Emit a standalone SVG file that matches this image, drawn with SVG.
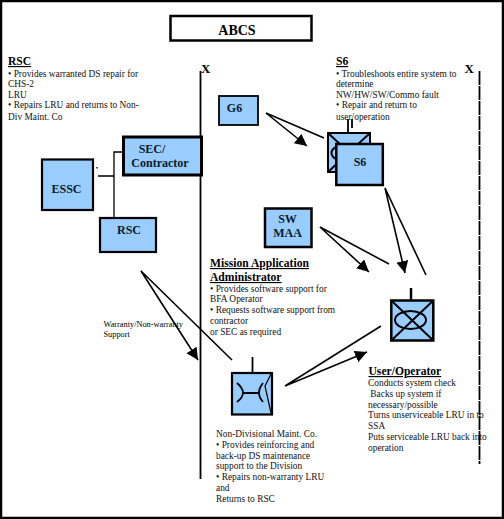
<svg xmlns="http://www.w3.org/2000/svg" width="504" height="519" viewBox="0 0 504 519">
<style>
text{font-family:"Liberation Serif","Times New Roman",serif;fill:#000}
.b{font-size:9.4px;fill:#111}
.h{font-size:11.6px;font-weight:bold;text-decoration:underline}
.n{font-size:12px;font-weight:bold;text-anchor:middle;fill:#0c1a2a}
.box{fill:#99ccff;stroke:#000}
.l{fill:none;stroke:#000}
.c{fill:none;stroke:#000;stroke-width:1.6}
</style>
<defs>
<marker id="a" markerUnits="userSpaceOnUse" markerWidth="14" markerHeight="14" refX="12" refY="6" orient="auto"><path d="M0 0L12 6L0 12z" fill="#000"/></marker>
</defs>
<rect x="1" y="1" width="502" height="517" fill="#fff" stroke="#000" stroke-width="2.500"/>
<g id="title"><rect x="170.500" y="16" width="141" height="24.500" fill="#fff" stroke="#000" stroke-width="2.500"/><text x="237" y="35" text-anchor="middle" font-size="14" font-weight="bold" fill="#0c1a2a">ABCS</text></g>
<g id="dividers">
<path class="l" stroke-width="1.800" d="M200.500 71V479"/>
<path class="l" stroke-width="1.800" stroke-dasharray="14 1" d="M479.500 71V464"/>
<text x="201" y="73" font-size="13" font-weight="bold">X</text>
<text x="464.500" y="73" font-size="13" font-weight="bold">X</text>
</g>
<g id="connectors">
<path class="l" stroke-width="1.300" d="M98 176H114M114 218V152H123"/>
<path class="l" stroke-width="1.300" d="M97 167v1.500"/>
<path class="c" d="M324 138L266 113L307 146" marker-end="url(#a)"/>
<path class="c" d="M426 275L385 188L405 273" marker-end="url(#a)"/>
<path class="c" d="M389 264L320 227L369 272" marker-end="url(#a)"/>
<path class="c" d="M232 360L141 271L198 360" marker-end="url(#a)"/>
<path class="c" d="M381 326L285 386L367 352" marker-end="url(#a)"/>
</g>
<g id="essc"><rect class="box" x="42" y="159.500" width="51" height="50.500" stroke-width="2.200"/><text class="n" x="66.500" y="192.500">ESSC</text></g>
<g id="sec"><rect class="box" x="123.500" y="137" width="78" height="38" stroke-width="3"/><text class="n" x="152" y="152.500">SEC/</text><text class="n" x="160" y="166.500">Contractor</text></g>
<g id="rsc"><rect class="box" x="100" y="218" width="56" height="34" stroke-width="2.200"/><text class="n" x="129" y="234">RSC</text></g>
<g id="g6"><rect class="box" x="219" y="96" width="39" height="29" stroke-width="1.800"/><text class="n" x="234.500" y="112">G6</text></g>
<g id="operator-s6">
<path class="l" stroke-width="1.800" d="M348 132V119M352 128V119"/>
<rect class="box" x="328" y="133" width="42" height="39" stroke-width="2"/>
<path class="l" stroke-width="2" d="M328 133L370 172M370 133L328 172"/>
<ellipse class="l" cx="347" cy="153" rx="15.500" ry="8.500" stroke-width="2"/>
</g>
<g id="s6"><rect class="box" x="336.300" y="144" width="46.500" height="41" stroke-width="2.500"/><text class="n" x="360" y="166">S6</text></g>
<g id="sw-maa"><rect class="box" x="265" y="208.500" width="46.500" height="38.500" stroke-width="2.500"/><text class="n" x="287.500" y="223">SW</text><text class="n" x="287.500" y="237">MAA</text></g>
<g id="user-operator">
<path class="l" stroke-width="2.500" d="M411 288V300"/>
<rect class="box" x="391.300" y="300.500" width="42" height="40" stroke-width="2.500"/>
<path class="l" stroke-width="2" d="M391.300 300.500L433.300 340.500M433.300 300.500L391.300 340.500"/>
<ellipse class="l" cx="410.500" cy="320" rx="15.500" ry="9" stroke-width="2"/>
</g>
<g id="maint">
<path class="l" stroke-width="1.800" d="M252.500 357V373"/>
<rect class="box" x="232" y="373" width="40" height="41.500" stroke-width="2.200"/>
<path class="l" stroke-width="1.800" d="M237 383Q249 393 237 402M243 393H259M263 383Q255 393 263 402"/>
<path class="l" stroke-width="1.200" d="M271 374L265 386L271 413"/>
</g>
<g id="texts">
<text class="h" x="8" y="65">RSC</text>
<text class="b"><tspan x="8" y="77">• Provides warranted DS repair for</tspan><tspan x="8" y="87">CHS-2</tspan><tspan x="8" y="98">LRU</tspan><tspan x="8" y="108">• Repairs LRU and returns to Non-</tspan><tspan x="8" y="120">Div Maint. Co</tspan></text>
<text class="h" x="336" y="65">S6</text>
<text class="b"><tspan x="336" y="77">• Troubleshoots entire system to</tspan><tspan x="336" y="87">determine</tspan><tspan x="336" y="98">NW/HW/SW/Commo fault</tspan><tspan x="336" y="108">• Repair and return to</tspan><tspan x="336" y="120">user/operation</tspan></text>
<text x="103.500" y="327" font-size="8.300" fill="#111"><tspan x="103.500">Warranty/Non-warranty</tspan><tspan x="103.500" y="337">Support</tspan></text>
<text class="h" x="210" y="267">Mission Application</text>
<text class="h" x="210" y="281">Administrator</text>
<text class="b"><tspan x="210" y="292">• Provides software support for</tspan><tspan x="210" y="302">BFA Operator</tspan><tspan x="210" y="313">• Requests software support from</tspan><tspan x="210" y="324">contractor</tspan><tspan x="210" y="335">or SEC as required</tspan></text>
<text class="b"><tspan x="216" y="437">Non-Divisional Maint. Co.</tspan><tspan x="216" y="448">• Provides reinforcing and</tspan><tspan x="216" y="459">back-up DS maintenance</tspan><tspan x="216" y="469">support to the Division</tspan><tspan x="216" y="480">• Repairs non-warranty LRU</tspan><tspan x="216" y="491">and</tspan><tspan x="216" y="502">Returns to RSC</tspan></text>
<text class="h" x="368.500" y="375">User/Operator</text>
<text class="b"><tspan x="368" y="386">Conducts system check</tspan><tspan x="368" y="397"> Backs up system if</tspan><tspan x="368" y="408">necessary/possible</tspan><tspan x="368" y="418">Turns unserviceable LRU in to</tspan><tspan x="368" y="429">SSA</tspan><tspan x="368" y="440">Puts serviceable LRU back into</tspan><tspan x="368" y="451">operation</tspan></text>
</g>
</svg>
